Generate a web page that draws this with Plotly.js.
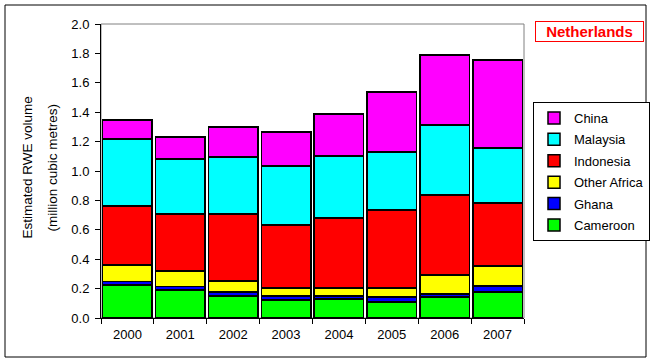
<!DOCTYPE html>
<html>
<head>
<meta charset="utf-8">
<script src="https://cdn.plot.ly/plotly-3.0.1.min.js"></script>
<style>html,body{margin:0;padding:0;background:#fff;}#chart{width:651px;height:361px;}</style>
</head>
<body>
<div id="chart"></div>
<script>
const years = ['2000','2001','2002','2003','2004','2005','2006','2007'];
const cameroon    = [0.224, 0.190, 0.150, 0.122, 0.129, 0.109, 0.143, 0.177];
const ghana       = [0.023, 0.023, 0.027, 0.028, 0.021, 0.034, 0.020, 0.041];
const otherAfrica = [0.114, 0.107, 0.075, 0.054, 0.054, 0.061, 0.130, 0.136];
const indonesia   = [0.401, 0.387, 0.455, 0.429, 0.476, 0.531, 0.544, 0.428];
const malaysia    = [0.456, 0.375, 0.388, 0.401, 0.422, 0.394, 0.476, 0.374];
const china       = [0.129, 0.149, 0.204, 0.231, 0.286, 0.408, 0.476, 0.599];
const seriesNames = ['Cameroon','Ghana','Other Africa','Indonesia','Malaysia','China'];
const seriesColors = ['#00FF00','#0000FF','#FFFF00','#FF0000','#00FFFF','#FF00FF'];
const yTickVals = [0,0.2,0.4,0.6,0.8,1.0,1.2,1.4,1.6,1.8,2.0];

const allSeries = [cameroon, ghana, otherAfrica, indonesia, malaysia, china];
const traces = allSeries.map((vals, i) => ({
  type: 'bar', x: years, y: vals, name: seriesNames[i],
  legendgroup: 'g' + i,
  legendrank: allSeries.length - i,
  marker: {color: seriesColors[i], line: {color: '#000', width: 1.5}},
  hoverinfo: 'name+y'
}));

const L = 101, R = 524, T = 24, B = 318, W = 651, H = 361;
const px = v => (v - L) / (R - L);
const py = v => (B - v) / (B - T);
const font = 'Liberation Sans, Arial, sans-serif';

const layout = {
  width: W, height: H,
  margin: {l: L, r: W - R, t: T, b: H - B, pad: 0, autoexpand: false},
  paper_bgcolor: '#fff', plot_bgcolor: '#fff',
  barmode: 'stack', bargap: 0.065,
  font: {family: font, size: 13, color: '#000'},
  showlegend: true,
  legend: {
    x: px(533), y: py(102), xanchor: 'left', yanchor: 'top',
    traceorder: 'grouped', tracegroupgap: 1.5,
    bordercolor: '#000', borderwidth: 1, bgcolor: '#fff',
    font: {family: font, size: 13, color: '#000'}
  },
  xaxis: {
    type: 'category', showline: true, linecolor: '#000', linewidth: 1,
    ticks: 'outside', ticklen: 5, tickcolor: '#000', tickson: 'boundaries',
    showgrid: false, zeroline: false, ticklabelstandoff: 4,
    tickfont: {family: font, size: 13, color: '#000'}
  },
  yaxis: {
    range: [0, 2.0], tickvals: yTickVals, tickformat: '.1f',
    showline: true, linecolor: '#000', linewidth: 1,
    ticks: 'outside', ticklen: 5, tickcolor: '#000',
    showgrid: false, zeroline: false, ticklabelstandoff: 3,
    tickfont: {family: font, size: 13, color: '#000'}
  },
  shapes: [
    {type: 'rect', xref: 'paper', yref: 'paper', x0: 0, x1: 1, y0: 0, y1: 1,
     line: {color: '#808080', width: 1}, layer: 'below'},
    {type: 'rect', xref: 'paper', yref: 'paper', x0: px(5), x1: px(646), y0: py(357), y1: py(5),
     line: {color: '#000', width: 1}, layer: 'below'}
  ],
  annotations: [
    {text: '<b>Netherlands</b>', xref: 'paper', yref: 'paper', x: px(589.5), y: py(31.5),
     xanchor: 'center', yanchor: 'middle', showarrow: false,
     font: {family: font, size: 15, color: '#FF0000'},
     bordercolor: '#FF0000', borderwidth: 1, borderpad: 1, bgcolor: '#fff', width: 105, height: 17},
    {text: 'Estimated RWE volume', xref: 'paper', yref: 'paper', x: px(27), y: py(167.5),
     xanchor: 'center', yanchor: 'middle', showarrow: false, textangle: -90,
     font: {family: font, size: 13.5, color: '#000'}},
    {text: '(million cubic metres)', xref: 'paper', yref: 'paper', x: px(52), y: py(167.5),
     xanchor: 'center', yanchor: 'middle', showarrow: false, textangle: -90,
     font: {family: font, size: 13.5, color: '#000'}}
  ]
};

Plotly.newPlot('chart', traces, layout, {displayModeBar: false, responsive: false});
</script>
</body>
</html>
